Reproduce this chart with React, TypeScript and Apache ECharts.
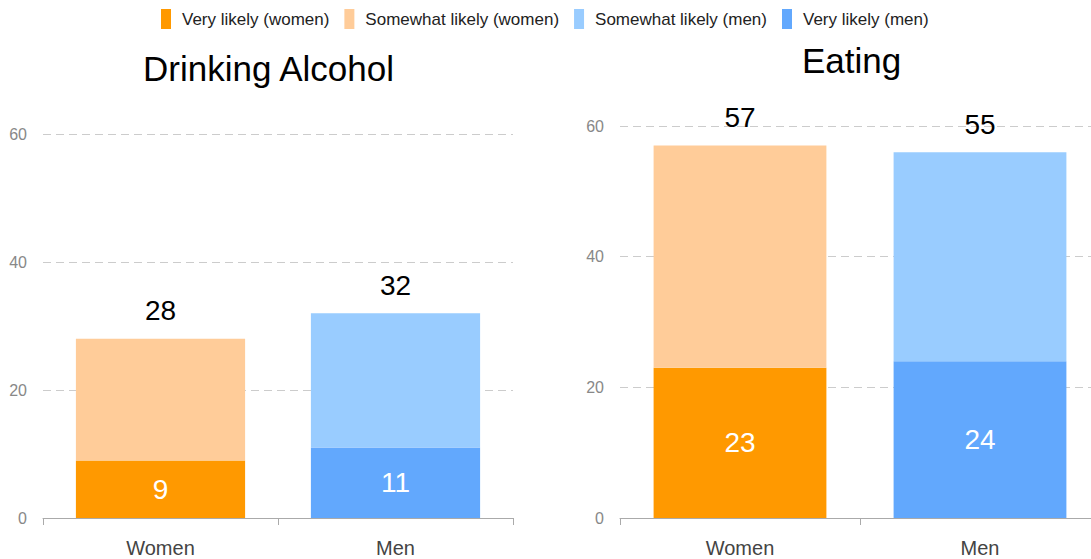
import React, { useEffect, useRef } from "react";
import * as echarts from "echarts";

const categories = ["Women", "Men"];
const chartTitles = ["Drinking Alcohol", "Eating"];
const seriesNames = [
  "Very likely (women)",
  "Somewhat likely (women)",
  "Somewhat likely (men)",
  "Very likely (men)",
];
const colors = ["#ff9900", "#ffcc99", "#99ccff", "#62a8fd"];

// Drinking alcohol
const drinkVeryWomen = [9, null];
const drinkSomewhatWomen = [19, null];
const drinkSomewhatMen = [null, 21];
const drinkVeryMen = [null, 11];
const drinkTotals = [28, 32];

// Eating
const eatVeryWomen = [23, null];
const eatSomewhatWomen = [34, null];
const eatSomewhatMen = [null, 32];
const eatVeryMen = [null, 24];
const eatTotals = [57, 55];

const yTicks = { min: 0, max: 60, interval: 20 };

const FONT = "'Liberation Sans', Arial, sans-serif";

export default function App() {
  const ref = useRef<HTMLDivElement>(null);
  useEffect(() => {
    if (!ref.current) return;
    const chart = echarts.init(ref.current, null, { renderer: "svg" });

    const grids = [
      { left: 43, top: 134, width: 470, height: 384 },
      { left: 620, top: 126, width: 480, height: 392 },
    ];
    const datasets = [
      { vw: drinkVeryWomen, sw: drinkSomewhatWomen, sm: drinkSomewhatMen, vm: drinkVeryMen, totals: drinkTotals },
      { vw: eatVeryWomen, sw: eatSomewhatWomen, sm: eatSomewhatMen, vm: eatVeryMen, totals: eatTotals },
    ];

    const series: any[] = [];
    datasets.forEach((d, gi) => {
      const base = {
        type: "bar",
        xAxisIndex: gi,
        yAxisIndex: gi,
        stack: "s" + gi,
        barWidth: "72%",
      };
      const insideLabel = {
        show: true,
        position: "inside",
        color: "#fff",
        fontSize: 28,
        fontFamily: FONT,
      };
      const topLabel = {
        show: true,
        position: "top",
        distance: 14,
        color: "#000",
        fontSize: 28,
        fontFamily: FONT,
        formatter: (p: any) => String(d.totals[p.dataIndex]),
      };
      series.push({ ...base, name: seriesNames[0], data: d.vw, itemStyle: { color: colors[0] }, label: insideLabel });
      series.push({ ...base, name: seriesNames[1], data: d.sw, itemStyle: { color: colors[1] }, label: topLabel });
      series.push({ ...base, name: seriesNames[3], data: d.vm, itemStyle: { color: colors[3] }, label: insideLabel });
      series.push({ ...base, name: seriesNames[2], data: d.sm, itemStyle: { color: colors[2] }, label: topLabel });
    });

    chart.setOption({
      animation: false,
      textStyle: { fontFamily: FONT },
      title: [
        { text: chartTitles[0], left: 143, top: 51, padding: 0, textStyle: { fontSize: 35, fontWeight: "normal", color: "#000", fontFamily: FONT } },
        { text: chartTitles[1], left: 802, top: 43, padding: 0, textStyle: { fontSize: 35, fontWeight: "normal", color: "#000", fontFamily: FONT } },
      ],
      legend: {
        data: seriesNames,
        top: 9,
        left: 161,
        padding: 0,
        itemWidth: 10,
        itemHeight: 20,
        itemGap: 15,
        icon: "rect",
        textStyle: { fontSize: 17, color: "#222", fontFamily: FONT, padding: [0, 0, 0, 6] },
      },
      grid: grids,
      xAxis: grids.map((_, i) => ({
        type: "category",
        gridIndex: i,
        data: categories,
        axisLine: { lineStyle: { color: "#aaa" } },
        axisTick: { show: true, length: 7, lineStyle: { color: "#aaa" } },
        axisLabel: { fontSize: 20, color: "#444", margin: 20, fontFamily: FONT },
      })),
      yAxis: grids.map((_, i) => ({
        type: "value",
        gridIndex: i,
        min: yTicks.min,
        max: yTicks.max,
        interval: yTicks.interval,
        axisLine: { show: false },
        axisTick: { show: false },
        axisLabel: { fontSize: 16, color: "#888", margin: 16, fontFamily: FONT },
        splitLine: { lineStyle: { color: "#ccc", type: [8, 5] } },
      })),
      series,
    });
    return () => chart.dispose();
  }, []);
  return (
    <div style={{ position: "absolute", left: 0, top: 0, width: 1091, height: 559, overflow: "hidden", background: "#fff" }}>
      <div ref={ref} style={{ width: 1112, height: 559 }} />
    </div>
  );
}
